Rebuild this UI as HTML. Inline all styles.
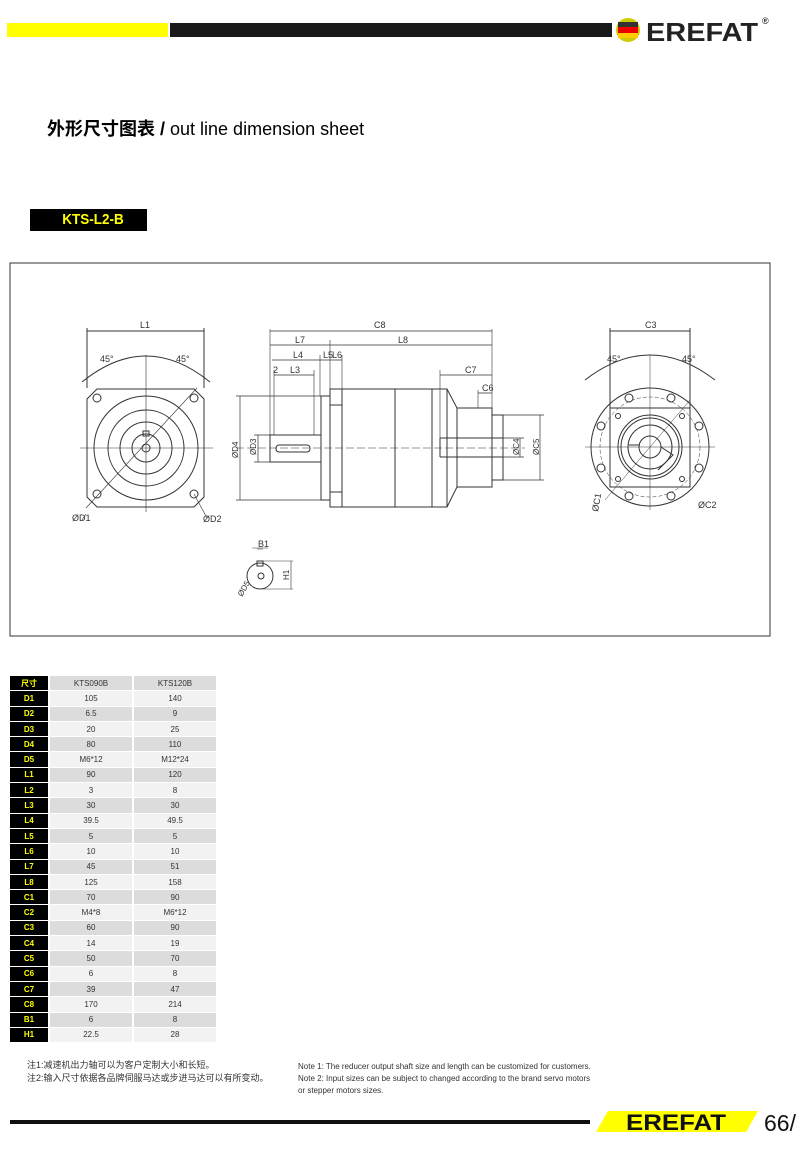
<!DOCTYPE html>
<html><head><meta charset="utf-8"><style>
body{margin:0;width:800px;height:1153px;background:#fff;position:relative;overflow:hidden;font-family:"Liberation Sans","Noto Sans CJK SC",sans-serif}
.a{position:absolute}
table{border-collapse:separate;border-spacing:2px 1px;position:absolute;left:8px;top:675px;font-size:8px}
td{height:14.3px;padding:0;text-align:center;color:#333}
td.k{background:#000;color:#ff0;font-weight:bold;width:38px}
td.v{width:82px}
tr:nth-child(odd) td.v{background:#dcdcdc}
tr:nth-child(even) td.v{background:#f2f2f2}
</style></head><body>
<div class="a" style="left:7px;top:23px;width:161px;height:14px;background:#ff0"></div>
<div class="a" style="left:170px;top:23px;width:442px;height:14px;background:#1a1a1a"></div>
<svg class="a" style="left:614px;top:14px" width="160" height="32"><circle cx="14" cy="16" r="12" fill="#cc0" /><rect x="4" y="8" width="20" height="5" fill="#333"/><rect x="4" y="13" width="20" height="6" fill="#e00"/><rect x="4" y="19" width="20" height="5" fill="#fc0"/><text x="32" y="27" font-size="26" font-weight="bold" fill="#222" font-family="Liberation Sans" textLength="112" lengthAdjust="spacingAndGlyphs">EREFAT</text><text x="148" y="10" font-size="9">®</text></svg>
<div class="a" style="left:47px;top:115px;font-size:18px"><b>外形尺寸图表 /</b> out line dimension sheet</div>
<div class="a" style="left:30px;top:209px;width:117px;height:22px;background:#000;color:#ff0;font-size:15px;line-height:22px;text-indent:17px;font-weight:bold"><span style="display:inline-block;transform:scaleX(.9);transform-origin:left">KTS-L2-B</span></div>
<svg class="a" style="left:0;top:0" width="800" height="660" fill="none" stroke="#333" stroke-width="1" font-family="Liberation Sans" font-size="9">
<rect x="10" y="263" width="760" height="373"/>
<path d="M97 389H194L204 399V497L194 507H97L87 497V399Z"/>
<circle cx="146" cy="448" r="52"/><circle cx="146" cy="448" r="38"/><circle cx="146" cy="448" r="26"/><circle cx="146" cy="448" r="14"/><circle cx="146" cy="448" r="4"/>
<rect x="143" y="431" width="6" height="5"/>
<circle cx="97" cy="398" r="4"/><circle cx="194" cy="398" r="4"/><circle cx="97" cy="494" r="4"/><circle cx="194" cy="494" r="4"/>
<path d="M80 448H213M146 355V512M86 508L197 388M194 494L207 518M82 520L86 514" stroke-width=".6"/>
<path d="M87 388V328M204 388V328M87 331H204M82 382Q146 330 210 382"/>
<text x="140" y="328" stroke="none" fill="#333">L1</text><text x="100" y="362" stroke="none" fill="#333">45°</text><text x="176" y="362" stroke="none" fill="#333">45°</text>
<text x="72" y="521" stroke="none" fill="#333">ØD1</text><text x="203" y="522" stroke="none" fill="#333">ØD2</text>
<rect x="321" y="396" width="9" height="104"/><rect x="330" y="389" width="117" height="118"/>
<path d="M342 389V507M395 389V507M432 389V507M330 405H342M330 492H342M447 389L457 408V487L447 507M457 408H492V487H457M492 415H503V480H492M440 438H503M440 457H503M440 438V457"/>
<rect x="270" y="435" width="51" height="27"/><rect x="276" y="445" width="34" height="7" rx="3"/>
<path d="M236 448H525" stroke-width=".5" stroke-dasharray="8 3"/>
<path d="M270 329V435M492 329V415M330 340V389M320 355V396M314 370V435M274 370V435M330 345V389M342 355V389M440 370V438M478 390V408" stroke-width=".6"/>
<path d="M270 331H492M270 345H492M272 360H342M274 375H314M440 375H492M478 393H492M240 396V500M236 396H321M236 500H321M258 435V462M254 435H270M254 462H270M520 438V457M503 438H524M503 457H524M540 415V480M503 415H544M503 480H544" stroke-width=".7"/>
<g stroke="none" fill="#333"><text x="374" y="328">C8</text><text x="295" y="343">L7</text><text x="398" y="343">L8</text><text x="293" y="358">L4</text><text x="323" y="358">L5</text><text x="332" y="358">L6</text><text x="273" y="373">2</text><text x="290" y="373">L3</text><text x="465" y="373">C7</text><text x="482" y="391">C6</text></g>
<g stroke="none" fill="#333" font-size="8"><text transform="translate(238,458) rotate(-90)">ØD4</text><text transform="translate(256,455) rotate(-90)">ØD3</text><text transform="translate(519,455) rotate(-90)">ØC4</text><text transform="translate(539,455) rotate(-90)">ØC5</text></g>
<circle cx="260" cy="576" r="13"/><rect x="257" y="561" width="6" height="5"/><circle cx="261" cy="576" r="3"/>
<path d="M257 549H263M263 561H293M263 589H293M291 561V589M252 548H268" stroke-width=".6"/>
<text x="258" y="547" stroke="none" fill="#333">B1</text><text transform="translate(289,580) rotate(-90)" stroke="none" fill="#333" font-size="8">H1</text><text transform="translate(242,597) rotate(-60)" stroke="none" fill="#333" font-size="8">ØD5</text>
<circle cx="650" cy="447" r="59"/><circle cx="650" cy="447" r="50" stroke-dasharray="4 2" stroke-width=".5"/>
<rect x="610" y="408" width="80" height="79"/>
<circle cx="650" cy="447" r="32"/><circle cx="650" cy="447" r="29"/><circle cx="650" cy="447" r="22"/><circle cx="650" cy="447" r="11"/>
<path d="M629 445H640M661 447L673 455L658 470"/>
<circle cx="629" cy="398" r="4"/><circle cx="671" cy="398" r="4"/><circle cx="601" cy="426" r="4"/><circle cx="699" cy="426" r="4"/><circle cx="601" cy="468" r="4"/><circle cx="699" cy="468" r="4"/><circle cx="629" cy="496" r="4"/><circle cx="671" cy="496" r="4"/>
<circle cx="618" cy="416" r="2.5"/><circle cx="682" cy="416" r="2.5"/><circle cx="618" cy="479" r="2.5"/><circle cx="682" cy="479" r="2.5"/>
<path d="M585 447H715M650 355V510M605 500L690 400" stroke-width=".5"/>
<path d="M610 408V328M690 408V328M610 331H690M585 380Q650 330 715 380"/>
<g stroke="none" fill="#333"><text x="645" y="328">C3</text><text x="607" y="362">45°</text><text x="682" y="362">45°</text><text x="698" y="508">ØC2</text><text transform="translate(598,512) rotate(-80)">ØC1</text></g>
</svg>
<table>
<tr><td class="k">尺寸</td><td class="v">KTS090B</td><td class="v">KTS120B</td></tr>
<tr><td class="k">D1</td><td class="v">105</td><td class="v">140</td></tr>
<tr><td class="k">D2</td><td class="v">6.5</td><td class="v">9</td></tr>
<tr><td class="k">D3</td><td class="v">20</td><td class="v">25</td></tr>
<tr><td class="k">D4</td><td class="v">80</td><td class="v">110</td></tr>
<tr><td class="k">D5</td><td class="v">M6*12</td><td class="v">M12*24</td></tr>
<tr><td class="k">L1</td><td class="v">90</td><td class="v">120</td></tr>
<tr><td class="k">L2</td><td class="v">3</td><td class="v">8</td></tr>
<tr><td class="k">L3</td><td class="v">30</td><td class="v">30</td></tr>
<tr><td class="k">L4</td><td class="v">39.5</td><td class="v">49.5</td></tr>
<tr><td class="k">L5</td><td class="v">5</td><td class="v">5</td></tr>
<tr><td class="k">L6</td><td class="v">10</td><td class="v">10</td></tr>
<tr><td class="k">L7</td><td class="v">45</td><td class="v">51</td></tr>
<tr><td class="k">L8</td><td class="v">125</td><td class="v">158</td></tr>
<tr><td class="k">C1</td><td class="v">70</td><td class="v">90</td></tr>
<tr><td class="k">C2</td><td class="v">M4*8</td><td class="v">M6*12</td></tr>
<tr><td class="k">C3</td><td class="v">60</td><td class="v">90</td></tr>
<tr><td class="k">C4</td><td class="v">14</td><td class="v">19</td></tr>
<tr><td class="k">C5</td><td class="v">50</td><td class="v">70</td></tr>
<tr><td class="k">C6</td><td class="v">6</td><td class="v">8</td></tr>
<tr><td class="k">C7</td><td class="v">39</td><td class="v">47</td></tr>
<tr><td class="k">C8</td><td class="v">170</td><td class="v">214</td></tr>
<tr><td class="k">B1</td><td class="v">6</td><td class="v">8</td></tr>
<tr><td class="k">H1</td><td class="v">22.5</td><td class="v">28</td></tr>
</table>
<div class="a" style="left:27px;top:1059px;font-size:9px;line-height:13px;color:#333">注1:减速机出力轴可以为客户定制大小和长短。<br>注2:输入尺寸依据各品牌伺服马达或步进马达可以有所变动。</div>
<div class="a" style="left:298px;top:1061px;font-size:8px;line-height:12px;color:#333">Note 1: The reducer output shaft size and length can be customized for customers.<br>Note 2: Input sizes can be subject to changed according to the brand servo motors<br>or stepper motors sizes.</div>
<div class="a" style="left:10px;top:1120px;width:580px;height:4px;background:#111"></div>
<svg class="a" style="left:596px;top:1108px" width="204" height="26"><polygon points="12,3 162,3 150,24 0,24" fill="#ff0"/><text x="30" y="22" font-size="22" font-weight="bold" fill="#111" font-family="Liberation Sans" textLength="100" lengthAdjust="spacingAndGlyphs">EREFAT</text><text x="168" y="23" font-size="23" fill="#111" font-family="Liberation Sans">66/</text></svg>
</body></html>
